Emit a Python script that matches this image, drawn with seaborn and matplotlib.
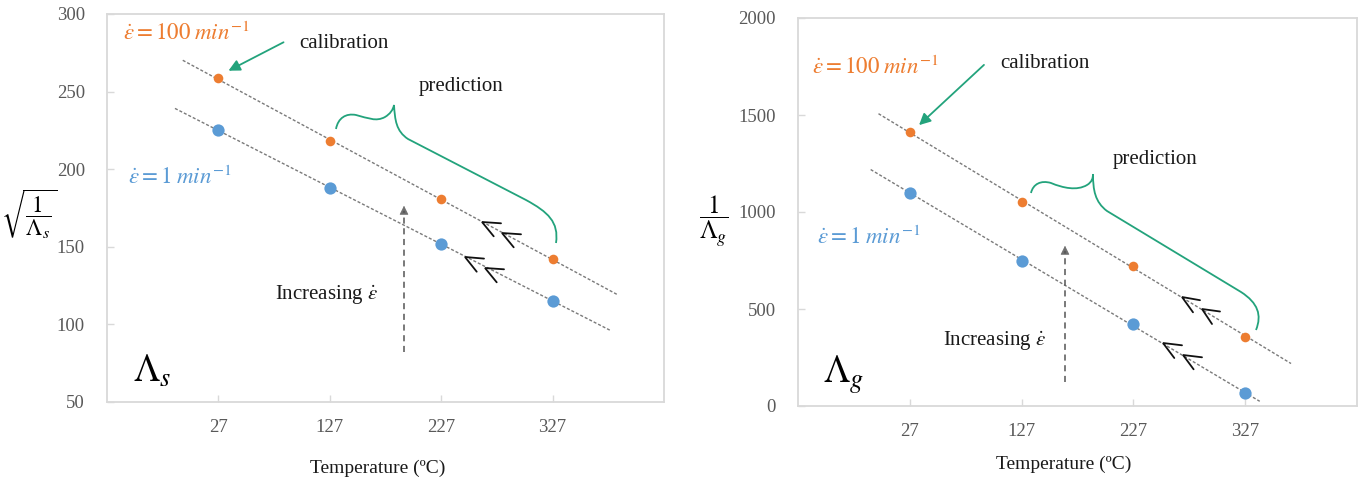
import numpy as np
import matplotlib
matplotlib.use('Agg')
import matplotlib.pyplot as plt
import seaborn as sns
from matplotlib.path import Path
from matplotlib.patches import PathPatch, FancyArrowPatch
from matplotlib.lines import Line2D

# ---------------- data ----------------
temperatures = [27, 127, 227, 327]
tick_labels = ['27', '127', '227', '327']
lam_s_rate100 = [258.5, 218, 180.5, 142]
lam_s_rate1 = [225, 188, 152, 115]
lam_g_rate100 = [1410, 1053, 722, 357]
lam_g_rate1 = [1100, 749, 421, 65]
trend_span_s_100 = [-5, 386]
trend_span_s_1 = [-12, 379]
trend_span_g_100 = [-1, 368]
trend_span_g_1 = [-8, 340]

ORANGE = '#ED7D31'
BLUE = '#5B9BD5'
GREEN = '#23A37C'
W, H = 1359, 483

sns.set_theme(style='white')
plt.rcParams['font.family'] = ['Liberation Serif', 'DejaVu Serif']
plt.rcParams['mathtext.fontset'] = 'stix'

fig = plt.figure(figsize=(W / 100, H / 100), dpi=100)


def rect(l, t, r, b):
    return [l / W, 1 - b / H, (r - l) / W, (b - t) / H]


def P(x, y):
    return (x / W, 1 - y / H)


def panel(ax, v100, v1, span100, span1, ylim, yticks):
    for vals, span in [(v100, span100), (v1, span1)]:
        coef = np.polyfit(temperatures, vals, 1)
        xs = np.array(span, dtype=float)
        ax.plot(xs, np.polyval(coef, xs), ls=(0, (2.2, 1.4)), color='#7a7a7a', lw=1.0, zorder=2)
    sns.scatterplot(x=temperatures, y=v1, ax=ax, color=BLUE, s=78, linewidth=0, zorder=3)
    sns.scatterplot(x=temperatures, y=v100, ax=ax, color=ORANGE, s=48, linewidth=0, zorder=3)
    ax.set_xlim(-73, 427)
    ax.set_ylim(*ylim)
    ax.set_xticks(temperatures)
    ax.set_xticklabels(tick_labels)
    ax.set_yticks(yticks)
    for sp in ax.spines.values():
        sp.set_visible(True)
        sp.set_color('#d9d9d9')
        sp.set_linewidth(1.3)
    ax.tick_params(bottom=True, left=True, top=False, right=False, direction='in', length=5,
                   width=1, color='#d9d9d9', labelsize=13.5, labelcolor='#595959')
    ax.tick_params(axis='x', pad=12)
    ax.tick_params(axis='y', pad=16)
    ax.set_xlabel('')
    ax.set_ylabel('')


ax1 = fig.add_axes(rect(107, 14, 664, 402))
ax2 = fig.add_axes(rect(798, 18, 1357, 406))
panel(ax1, lam_s_rate100, lam_s_rate1, trend_span_s_100, trend_span_s_1, (50, 300), [50, 100, 150, 200, 250, 300])
panel(ax2, lam_g_rate100, lam_g_rate1, trend_span_g_100, trend_span_g_1, (0, 2000), [0, 500, 1000, 1500, 2000])


def ftext(x, y, s, **kw):
    kw.setdefault('ha', 'center')
    kw.setdefault('va', 'center')
    fig.text(*P(x, y), s, **kw)


rate100 = r'$\dot{\varepsilon}=100\;min^{-1}$'
rate1 = r'$\dot{\varepsilon}=1\;min^{-1}$'
incr = r'Increasing $\dot{\varepsilon}$'

# left panel texts
ftext(186, 33, rate100, color=ORANGE, fontsize=16.5)
ftext(180, 177, rate1, color=BLUE, fontsize=16.5)
ftext(344, 43, 'calibration', fontsize=15, color='#1a1a1a')
ftext(461, 87, 'prediction', fontsize=15, color='#1a1a1a')
ftext(327, 295, incr, fontsize=15, color='#1a1a1a')
ftext(133, 372, r'$\Lambda_s$', fontsize=27, ha='left', color='black')
ftext(29, 214, r'$\sqrt{\dfrac{1}{\Lambda_s}}$', fontsize=16.5, color='black')
ftext(378, 468, 'Temperature (ºC)', fontsize=14, color='#1a1a1a')

# right panel texts
ftext(875, 67, rate100, color=ORANGE, fontsize=16.5)
ftext(869, 237, rate1, color=BLUE, fontsize=16.5)
ftext(1045, 63, 'calibration', fontsize=15, color='#1a1a1a')
ftext(1155, 159, 'prediction', fontsize=15, color='#1a1a1a')
ftext(995, 341, incr, fontsize=15, color='#1a1a1a')
ftext(823, 375, r'$\Lambda_g$', fontsize=27, ha='left', color='black')
ftext(714, 221, r'$\dfrac{1}{\Lambda_g}$', fontsize=18, color='black')
ftext(1064, 464, 'Temperature (ºC)', fontsize=14, color='#1a1a1a')

# green calibration arrows
for (x0, y0), (x1, y1) in [((286, 41), (226, 72)), ((986, 63), (917, 127))]:
    fig.patches.append(FancyArrowPatch(P(x0, y0), P(x1, y1), transform=fig.transFigure,
                                       arrowstyle='-|>', mutation_scale=17, color=GREEN, lw=1.3))

# grey "increasing" arrows
for x, yb, yt in [(404, 352, 203), (1065, 382, 243)]:
    fig.lines.append(Line2D([x / W, x / W], [1 - yb / H, 1 - (yt + 8) / H], transform=fig.transFigure,
                            ls=(0, (4, 3)), color='#555555', lw=1.1))
    fig.patches.append(FancyArrowPatch(P(x, yt + 10), P(x, yt), transform=fig.transFigure,
                                       arrowstyle='-|>', mutation_scale=14, color='#6e6e6e', lw=0.5))

# double chevrons
chevrons = [
    ((482, 222), (19, 1.3), (11.7, 14.3)), ((502, 233), (19, 1.3), (11.7, 14.3)),
    ((465, 257), (19, 1.6), (11.7, 14.7)), ((485, 268), (19, 1.3), (11.7, 14.3)),
    ((1182, 297), (18, 3.2), (11, 15.3)), ((1202, 309), (18, 2.5), (10, 15)),
    ((1163, 343), (19, 2.3), (11.3, 15)), ((1183, 355), (19, 2.3), (10.6, 14.3)),
]
for (tx, ty), (a1x, a1y), (a2x, a2y) in chevrons:
    xs = [tx + a1x, tx, tx + a2x]
    ys = [ty + a1y, ty, ty + a2y]
    fig.lines.append(Line2D([v / W for v in xs], [1 - v / H for v in ys], transform=fig.transFigure,
                            color='#111111', lw=1.3, solid_joinstyle='miter'))


def brace(pts):
    verts = [P(*pts[0])]
    codes = [Path.MOVETO]
    for seg in pts[1:]:
        if len(seg) == 3:
            verts += [P(*p) for p in seg]
            codes += [Path.CURVE4] * 3
        else:
            verts.append(P(*seg))
            codes.append(Path.LINETO)
    fig.patches.append(PathPatch(Path(verts, codes), transform=fig.transFigure, fc='none',
                                 ec=GREEN, lw=1.3))


brace([(336, 129),
       ((338, 118), (346, 113), (356, 115)),
       ((368, 118), (376, 122), (385, 117)),
       ((390, 114), (393, 110), (394, 105)),
       ((395, 120), (396, 131), (408, 139)),
       (526, 200),
       ((548, 212), (559, 222), (556, 243))])

brace([(1031, 193),
       ((1033, 184), (1041, 180), (1051, 183)),
       ((1063, 188), (1077, 191), (1087, 185)),
       ((1092, 182), (1093, 178), (1093, 174)),
       ((1093, 190), (1095, 202), (1107, 211)),
       (1241, 292),
       ((1258, 303), (1262, 315), (1256, 330))])

fig.savefig('out.png', dpi=100)
